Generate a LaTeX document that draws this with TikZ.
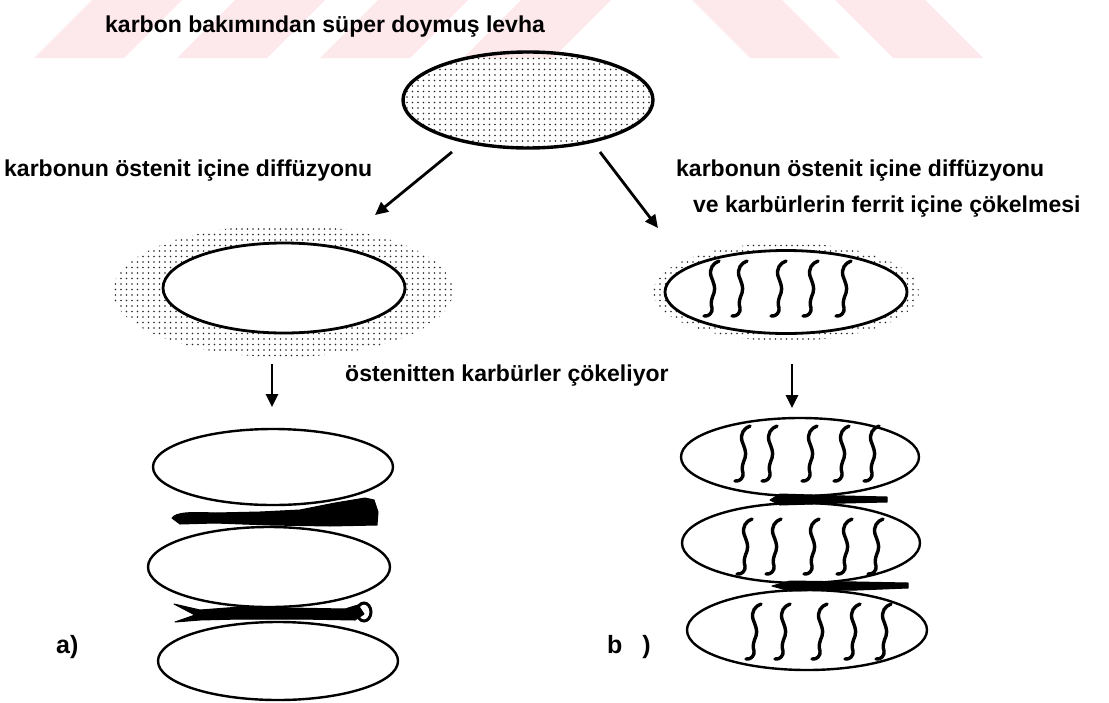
\documentclass[tikz,border=0pt]{standalone}
\usepackage{fontspec}
\setmainfont{Liberation Sans}
\usetikzlibrary{shapes.geometric,patterns.meta,arrows.meta}

\definecolor{wmpink}{RGB}{253,232,236}

\tikzset{
  txt/.style={font=\bfseries\fontsize{23}{26}\selectfont, anchor=base west, inner sep=0},
  tag/.style={txt, font=\bfseries\fontsize{25}{28}\selectfont},
  grain/.style={ellipse, draw, line width=2.8pt, fill=white, inner sep=0},
  dotfill/.style={pattern={Dots[distance=5.5pt,radius=0.9pt]}, pattern color=black!85},
  halo/.style={ellipse, inner sep=0, dotfill},
  arr/.style={line width=2.8pt, -{Triangle[length=13pt,width=12pt]}},
  squig/.style={line width=3.4pt, line cap=round, line join=round},
  carbide/.style={fill=black, draw=black, line width=1pt, line join=round},
}

% one carbide needle, #1 = x of the needle, #2 = y of its top
\newcommand{\needle}[2]{%
  \draw[squig] (#1+7,#2) .. controls (#1+1,#2+2) and (#1-3,#2+8) .. (#1-1,#2+15)
    .. controls (#1+1,#2+21) and (#1+4,#2+26) .. (#1+2,#2+32)
    .. controls (#1,#2+37) and (#1-2,#2+42) .. (#1,#2+47)
    .. controls (#1+1,#2+51) and (#1-3,#2+56) .. (#1-8,#2+55);}

\begin{document}
\begin{tikzpicture}[x=1pt,y=-1pt]
\useasboundingbox (0,0) rectangle (1109,702);

% background stripes
\foreach \x in {34,177,320,463}
  {\fill[wmpink] (\x,58) -- ++(90,0) -- ++(58,-58) -- ++(-90,0) -- cycle;}
\foreach \x in {692,835}
  {\fill[wmpink] (\x,0) -- ++(90,0) -- ++(58,58) -- ++(-90,0) -- cycle;}

% supersaturated plate
\node[txt] (title) at (105,32) {karbon bakımından süper doymuş levha};
\node[grain, dotfill, line width=3.4pt, minimum width=250pt, minimum height=96pt] (plate) at (528,100) {};

\coordinate (pl) at (452,152);
\coordinate (pr) at (600,152);
\coordinate (tl) at (375,215);
\coordinate (tr) at (658,228);
\draw[arr] (pl) -- (tl);
\draw[arr] (pr) -- (tr);

\node[txt] (ltext) at (4,176) {karbonun östenit içine diffüzyonu};
\node[txt] (rtext1) at (676,176) {karbonun östenit içine diffüzyonu};
\node[txt] (rtext2) at (693,212) {ve karbürlerin ferrit içine çökelmesi};

% a) diffusion only
\node[halo, minimum width=340pt, minimum height=132pt] (lhalo) at (283,291) {};
\node[grain, minimum width=242pt, minimum height=90pt] (lgrain) at (284,288) {};

% b) diffusion and precipitation
\node[halo, minimum width=266pt, minimum height=98pt] (rhalo) at (786,292) {};
\node[grain, minimum width=242pt, minimum height=83pt] (rgrain) at (786,292) {};
\foreach \x in {712,740,779,811,844}
  {\needle{\x}{261}}

\node[txt] (mtext) at (345,381) {östenitten karbürler çökeliyor};

\coordinate (lu) at (272,364);
\coordinate (ld) at (272,407);
\coordinate (ru) at (792,364);
\coordinate (rd) at (792,408);
\draw[arr] (lu) -- (ld);
\draw[arr] (ru) -- (rd);

% left stack
\node[grain, line width=2.4pt, minimum width=240pt, minimum height=76pt] (la) at (273,467) {};
\node[grain, line width=2.4pt, minimum width=242pt, minimum height=80pt] (lb) at (269,567) {};
\node[grain, line width=2.4pt, minimum width=240pt, minimum height=78pt] (lc) at (278,661) {};
\fill[carbide] (172,518) .. controls (176,512) and (192,512) .. (215,513) -- (260,512)
  -- (300,510) -- (335,503) -- (365,498) -- (374,500) -- (378,512) -- (377,525)
  -- (330,526) -- (270,525) -- (215,523) -- (180,524) -- cycle;
\fill[carbide] (174,604) -- (200,610) -- (240,607) -- (290,608) -- (345,609)
  -- (358,605) -- (364,614) -- (355,620) -- (300,619) -- (240,619) -- (200,620)
  -- (175,622) -- (195,615) -- cycle;
\draw[line width=3pt] (364,612) ellipse (7 and 9);

% right stack
\node[grain, line width=2.4pt, minimum width=238pt, minimum height=78pt] (ra) at (800,457) {};
\node[grain, line width=2.4pt, minimum width=238pt, minimum height=80pt] (rb) at (801,543) {};
\node[grain, line width=2.4pt, minimum width=240pt, minimum height=80pt] (rc) at (807,630) {};
\fill[carbide] (770,500) -- (780,494) -- (845,496) -- (887,497) -- (887,502)
  -- (845,503) -- (780,505) -- cycle;
\fill[carbide] (772,586) -- (790,581) -- (857,582) -- (908,583) -- (908,588)
  -- (857,590) -- (790,591) -- cycle;
\foreach \x in {743,770,810,842,872}
  {\needle{\x}{426}}
\foreach \x in {745,774,812,845,876}
  {\needle{\x}{519}}
\foreach \x in {754,783,820,853,884}
  {\needle{\x}{604}}

\node[tag] (alabel) at (56,653) {a)};
\node[tag] (blabel) at (607,653) {b\hspace{20pt})};
\end{tikzpicture}
\end{document}
